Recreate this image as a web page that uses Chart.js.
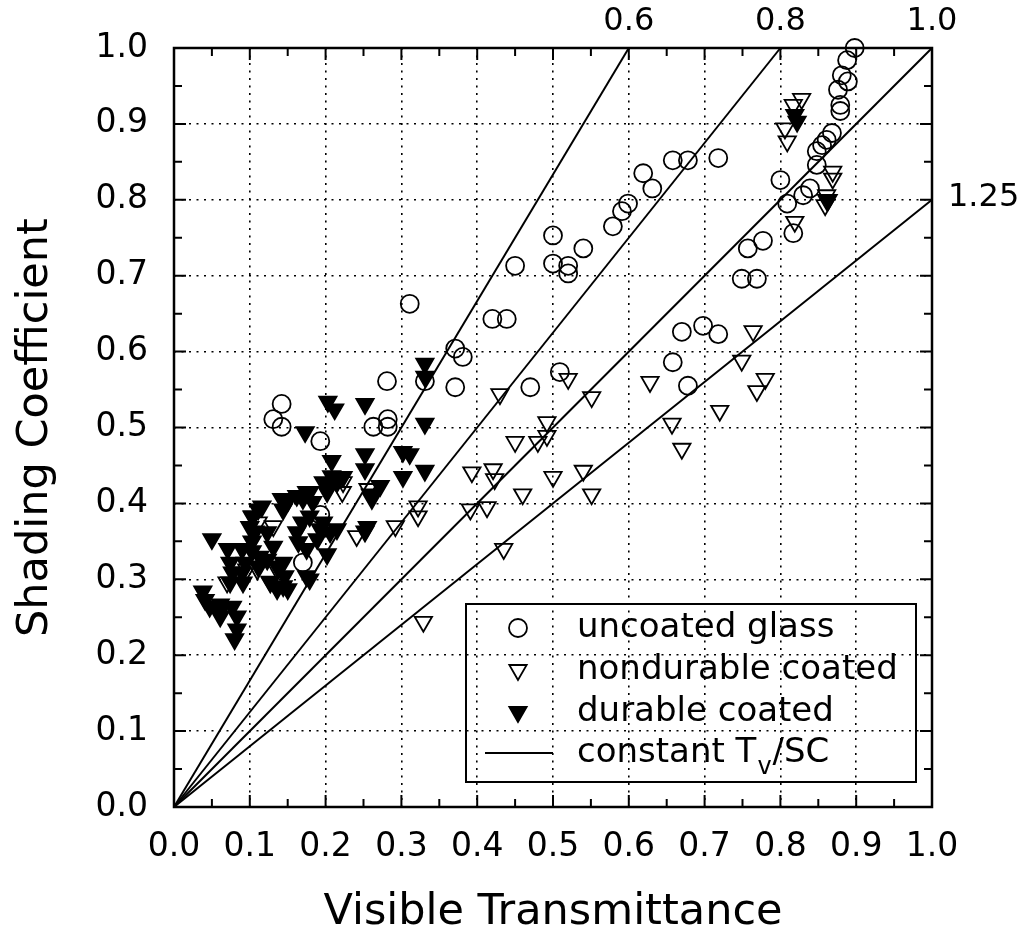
<!DOCTYPE html>
<html>
<head>
<meta charset="utf-8">
<script src="https://cdn.jsdelivr.net/npm/chart.js@4.4.1/dist/chart.umd.min.js"></script>
<style>
  html, body { margin: 0; padding: 0; background: #fff; }
  #wrap { width: 1023px; height: 934px; }
</style>
</head>
<body>
<div id="wrap"><canvas id="scChart" width="1023" height="934"></canvas></div>
<script>
// [visible transmittance, shading coefficient]
const uncoated = [
  [0.898, 1.000], [0.888, 0.984], [0.881, 0.964], [0.889, 0.956], [0.876, 0.945],
  [0.879, 0.925], [0.879, 0.917], [0.868, 0.888], [0.861, 0.879], [0.855, 0.872],
  [0.848, 0.864], [0.848, 0.846], [0.800, 0.826], [0.830, 0.806], [0.839, 0.815],
  [0.809, 0.795], [0.817, 0.756], [0.777, 0.746], [0.757, 0.736], [0.749, 0.696],
  [0.769, 0.696], [0.718, 0.855], [0.678, 0.852], [0.658, 0.852], [0.631, 0.815],
  [0.619, 0.835], [0.599, 0.795], [0.591, 0.785], [0.579, 0.765], [0.500, 0.753],
  [0.540, 0.736], [0.500, 0.716], [0.520, 0.713], [0.520, 0.703], [0.450, 0.713],
  [0.670, 0.626], [0.698, 0.634], [0.718, 0.623], [0.658, 0.586], [0.678, 0.555],
  [0.509, 0.573], [0.311, 0.663], [0.420, 0.643], [0.439, 0.643], [0.371, 0.604],
  [0.381, 0.593], [0.281, 0.561], [0.331, 0.561], [0.371, 0.553], [0.470, 0.553],
  [0.142, 0.531], [0.131, 0.511], [0.142, 0.501], [0.193, 0.482], [0.263, 0.501],
  [0.282, 0.511], [0.282, 0.501], [0.170, 0.322], [0.193, 0.385]
];

const nondurable = [
  [0.828, 0.933], [0.817, 0.925], [0.806, 0.894], [0.809, 0.877], [0.869, 0.837],
  [0.869, 0.828], [0.861, 0.806], [0.861, 0.800], [0.859, 0.793], [0.819, 0.771],
  [0.764, 0.627], [0.749, 0.588], [0.780, 0.564], [0.769, 0.548], [0.720, 0.522],
  [0.628, 0.560], [0.551, 0.540], [0.520, 0.564], [0.657, 0.505], [0.670, 0.472],
  [0.500, 0.435], [0.540, 0.443], [0.551, 0.412], [0.492, 0.507], [0.480, 0.481],
  [0.492, 0.489], [0.450, 0.481], [0.430, 0.544], [0.393, 0.441], [0.421, 0.445],
  [0.423, 0.432], [0.460, 0.412], [0.391, 0.392], [0.413, 0.395], [0.322, 0.396],
  [0.322, 0.383], [0.292, 0.370], [0.329, 0.244], [0.435, 0.340], [0.223, 0.428],
  [0.222, 0.415], [0.256, 0.419], [0.241, 0.357], [0.111, 0.375], [0.131, 0.370],
  [0.096, 0.313], [0.110, 0.313], [0.136, 0.313], [0.127, 0.296], [0.070, 0.296]
];

const durable = [
  [0.819, 0.912], [0.822, 0.903], [0.863, 0.800], [0.331, 0.584], [0.331, 0.567],
  [0.203, 0.534], [0.212, 0.524], [0.252, 0.531], [0.173, 0.494], [0.331, 0.505],
  [0.252, 0.465], [0.252, 0.445], [0.302, 0.468], [0.311, 0.465], [0.302, 0.435],
  [0.331, 0.443], [0.208, 0.456], [0.208, 0.436], [0.223, 0.435], [0.272, 0.423],
  [0.261, 0.406], [0.197, 0.428], [0.202, 0.415], [0.179, 0.415], [0.170, 0.406],
  [0.142, 0.406], [0.150, 0.403], [0.111, 0.392], [0.103, 0.383], [0.100, 0.369],
  [0.255, 0.369], [0.050, 0.353], [0.038, 0.284], [0.041, 0.273], [0.047, 0.264],
  [0.061, 0.267], [0.061, 0.258], [0.061, 0.251], [0.077, 0.264], [0.083, 0.251],
  [0.083, 0.234], [0.080, 0.221], [0.071, 0.340], [0.074, 0.322], [0.077, 0.309],
  [0.074, 0.296], [0.090, 0.340], [0.094, 0.322], [0.090, 0.309], [0.091, 0.296],
  [0.104, 0.383], [0.116, 0.396], [0.107, 0.363], [0.103, 0.350], [0.103, 0.337],
  [0.111, 0.317], [0.113, 0.330], [0.123, 0.362], [0.131, 0.343], [0.123, 0.326],
  [0.136, 0.317], [0.127, 0.297], [0.136, 0.287], [0.144, 0.291], [0.149, 0.406],
  [0.144, 0.392], [0.162, 0.410], [0.175, 0.415], [0.183, 0.402], [0.179, 0.383],
  [0.169, 0.375], [0.162, 0.362], [0.164, 0.349], [0.175, 0.340], [0.189, 0.353],
  [0.193, 0.366], [0.197, 0.375], [0.206, 0.362], [0.215, 0.366], [0.202, 0.333],
  [0.144, 0.322], [0.146, 0.304], [0.150, 0.287], [0.175, 0.304], [0.179, 0.300],
  [0.202, 0.423], [0.215, 0.428], [0.259, 0.412], [0.252, 0.363]
];

// constant Tv/SC reference lines, drawn from the origin to these ends
const ratioLabels = ['0.6', '0.8', '1.0', '1.25'];
const lineEnds = [[0.6, 1.0], [0.8, 1.0], [1.0, 1.0], [1.0, 0.8]];

const axisTicks = ['0.0', '0.1', '0.2', '0.3', '0.4', '0.5', '0.6', '0.7', '0.8', '0.9', '1.0'];
const legendLabels = ['uncoated glass', 'nondurable coated', 'durable coated', 'constant T', 'v', '/SC'];

const FONT = 'DejaVu Sans';
const toXY = arr => arr.map(p => ({ x: p[0], y: p[1] }));

const refLines = lineEnds.map((end, i) => ({
  label: 'Tv/SC ' + ratioLabels[i],
  type: 'line',
  data: [{ x: 0, y: 0 }, { x: end[0], y: end[1] }],
  borderColor: '#000',
  borderWidth: 2,
  pointRadius: 0,
  fill: false,
  clip: false
}));

const markerBase = { borderColor: '#000', borderWidth: 1.8, clip: false };

// frame, inward ticks, line labels and legend
const overlay = {
  id: 'overlay',
  beforeDatasetsDraw(chart) {
    const { ctx, chartArea: ca, scales } = chart;
    ctx.save();
    ctx.strokeStyle = '#000';
    ctx.lineWidth = 2;
    for (let i = 1; i < 20; i++) {
      const v = i / 20;
      const len = i % 2 === 0 ? 12 : 8;
      const px = scales.x.getPixelForValue(v);
      const py = scales.y.getPixelForValue(v);
      ctx.beginPath();
      ctx.moveTo(px, ca.bottom); ctx.lineTo(px, ca.bottom - len);
      ctx.moveTo(px, ca.top); ctx.lineTo(px, ca.top + len);
      ctx.moveTo(ca.left, py); ctx.lineTo(ca.left + len, py);
      ctx.moveTo(ca.right, py); ctx.lineTo(ca.right - len, py);
      ctx.stroke();
    }
    ctx.lineWidth = 2.5;
    ctx.strokeRect(ca.left, ca.top, ca.right - ca.left, ca.bottom - ca.top);
    ctx.restore();
  },
  afterDatasetsDraw(chart) {
    const { ctx, chartArea: ca, scales } = chart;
    ctx.save();
    ctx.fillStyle = '#000';
    ctx.font = '32px "' + FONT + '"';
    lineEnds.forEach((end, i) => {
      const px = scales.x.getPixelForValue(end[0]);
      const py = scales.y.getPixelForValue(end[1]);
      if (end[1] >= 1) {
        ctx.textAlign = 'center';
        ctx.textBaseline = 'middle';
        ctx.fillText(ratioLabels[i], px, ca.top - 26);
      } else {
        ctx.textAlign = 'left';
        ctx.textBaseline = 'middle';
        ctx.fillText(ratioLabels[i], px + 16, py - 2);
      }
    });

    // legend box
    const bx = ca.right - 466, by = ca.bottom - 203, bw = 450, bh = 178;
    ctx.lineWidth = 2;
    ctx.strokeStyle = '#000';
    ctx.strokeRect(bx, by, bw, bh);
    const mx = bx + 52, tx = bx + 111;
    const rows = [by + 24, by + 66, by + 108, by + 149];
    const legendFont = '34px "' + FONT + '"';
    ctx.font = legendFont;
    ctx.textAlign = 'left';
    ctx.textBaseline = 'middle';

    ctx.lineWidth = 1.8;
    ctx.beginPath();
    ctx.arc(mx, rows[0], 9, 0, Math.PI * 2);
    ctx.stroke();
    const tri = (cy, filled) => {
      const r = 10;
      ctx.beginPath();
      ctx.moveTo(mx, cy + r);
      ctx.lineTo(mx - r * 0.866, cy - r / 2);
      ctx.lineTo(mx + r * 0.866, cy - r / 2);
      ctx.closePath();
      if (filled) ctx.fill();
      ctx.stroke();
    };
    tri(rows[1], false);
    tri(rows[2], true);
    ctx.lineWidth = 2;
    ctx.beginPath();
    ctx.moveTo(bx + 19, rows[3]);
    ctx.lineTo(bx + 87, rows[3]);
    ctx.stroke();

    ctx.fillText(legendLabels[0], tx, rows[0]);
    ctx.fillText(legendLabels[1], tx, rows[1]);
    ctx.fillText(legendLabels[2], tx, rows[2]);
    ctx.fillText(legendLabels[3], tx, rows[3]);
    const w = ctx.measureText(legendLabels[3]).width;
    ctx.font = '24px "' + FONT + '"';
    ctx.fillText(legendLabels[4], tx + w + 1, rows[3] + 15);
    const wv = ctx.measureText(legendLabels[4]).width;
    ctx.font = legendFont;
    ctx.fillText(legendLabels[5], tx + w + wv + 2, rows[3]);
    ctx.restore();
  }
};

new Chart(document.getElementById('scChart'), {
  type: 'scatter',
  data: {
    datasets: [
      ...refLines,
      Object.assign({
        label: legendLabels[0],
        data: toXY(uncoated),
        pointStyle: 'circle',
        pointRadius: 9,
        backgroundColor: 'rgba(0,0,0,0)'
      }, markerBase),
      Object.assign({
        label: legendLabels[1],
        data: toXY(nondurable),
        pointStyle: 'triangle',
        rotation: 180,
        pointRadius: 10,
        backgroundColor: 'rgba(0,0,0,0)'
      }, markerBase),
      Object.assign({
        label: legendLabels[2],
        data: toXY(durable),
        pointStyle: 'triangle',
        rotation: 180,
        pointRadius: 10,
        backgroundColor: '#000'
      }, markerBase)
    ]
  },
  options: {
    responsive: false,
    animation: false,
    events: [],
    layout: { padding: { top: 48, right: 91, left: 0, bottom: 0 } },
    plugins: {
      legend: { display: false },
      tooltip: { enabled: false }
    },
    scales: {
      x: {
        type: 'linear',
        min: 0, max: 1,
        afterFit: s => { s.height = 127; },
        afterBuildTicks: s => { s.ticks = axisTicks.map(t => ({ value: parseFloat(t) })); },
        grid: { color: '#000', lineWidth: 1.6, drawTicks: false },
        border: { display: false, dash: [2, 5.5] },
        ticks: {
          color: '#000',
          font: { family: FONT, size: 33 },
          padding: 21,
          maxRotation: 0,
          autoSkip: false,
          callback: (v, i) => axisTicks[i]
        },
        title: {
          display: true,
          text: 'Visible Transmittance',
          color: '#000',
          font: { family: FONT, size: 43, lineHeight: 1 },
          padding: { top: 0, bottom: 0 }
        }
      },
      y: {
        type: 'linear',
        min: 0, max: 1,
        afterFit: s => { s.width = 174; },
        afterBuildTicks: s => { s.ticks = axisTicks.map(t => ({ value: parseFloat(t) })); },
        grid: { color: '#000', lineWidth: 1.6, drawTicks: false },
        border: { display: false, dash: [2, 5.5] },
        ticks: {
          color: '#000',
          font: { family: FONT, size: 33 },
          padding: 26,
          autoSkip: false,
          callback: (v, i) => axisTicks[i]
        },
        title: {
          display: true,
          text: 'Shading Coefficient',
          color: '#000',
          font: { family: FONT, size: 43, lineHeight: 1 },
          padding: { top: 14, bottom: 0 }
        }
      }
    }
  },
  plugins: [overlay]
});
</script>
</body>
</html>
